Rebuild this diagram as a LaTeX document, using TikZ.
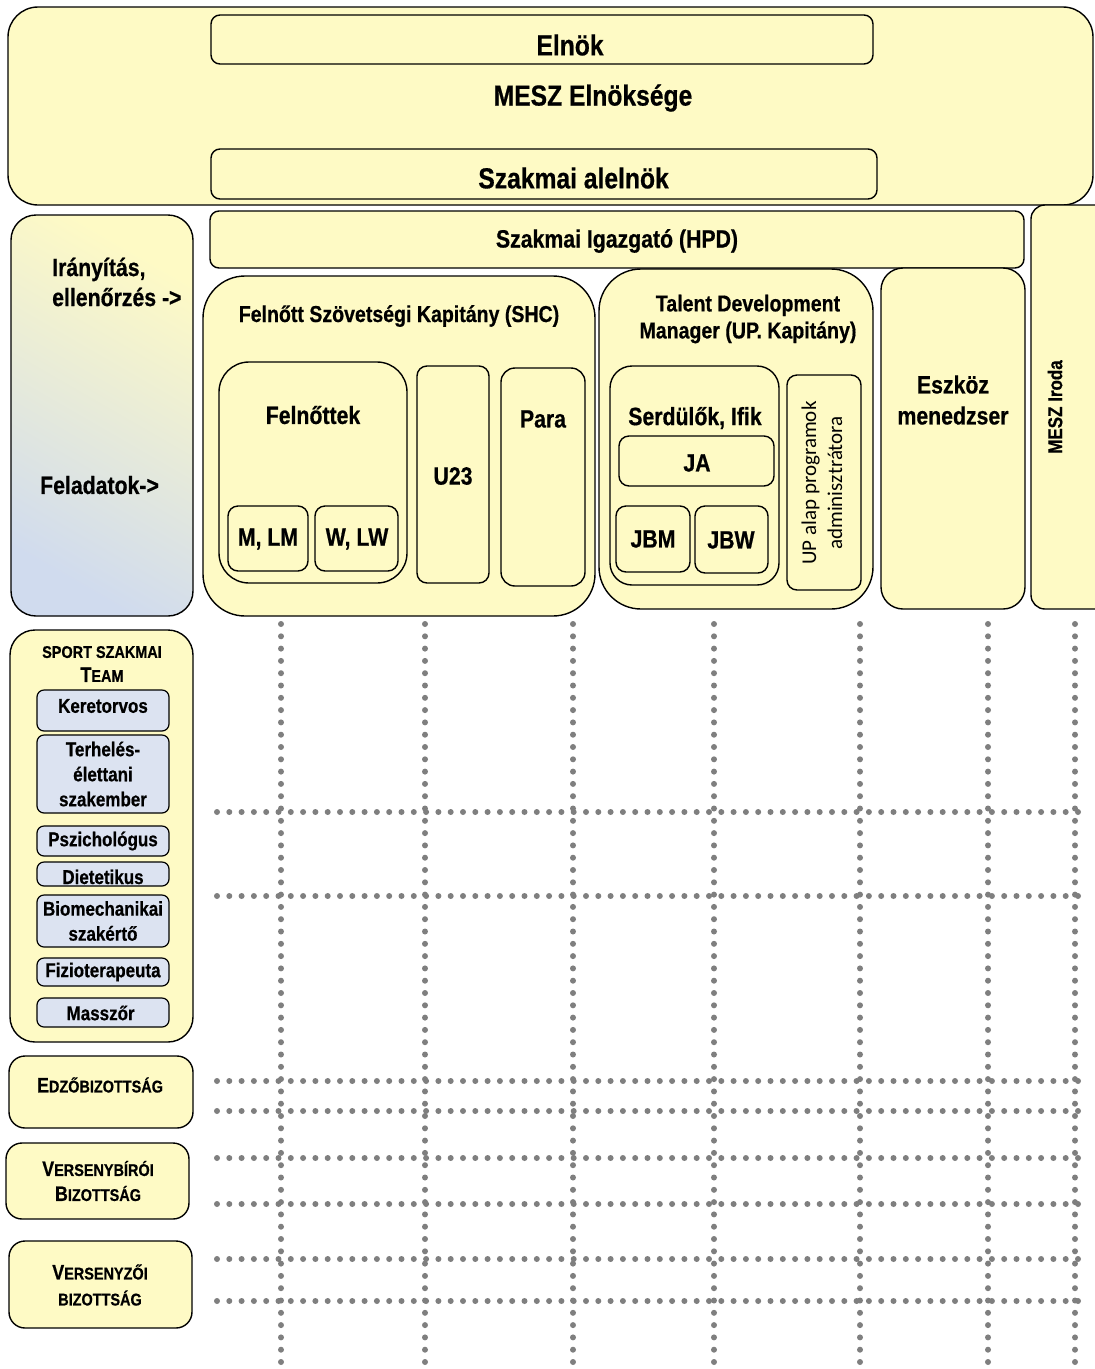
\documentclass[tikz,border=0pt]{standalone}
\usepackage{fontspec}
\setmainfont{Liberation Sans}[FakeStretch=0.85, BoldFont={Liberation Sans Bold}, BoldFeatures={FakeBold=0.6}]
\newfontfamily\upfont{Carlito}
\usetikzlibrary{arrows}
\newcommand\kisk[2]{{\fontsize{21}{25}\selectfont #1}{\fontsize{17}{25}\selectfont #2}}

\begin{document}
\begin{tikzpicture}[x=1pt,y=-1pt]
    \definecolor{sarga}{HTML}{FEFAC5}
    \definecolor{kek}{HTML}{DCE3F1}
    \definecolor{acel}{HTML}{D0DBEE}
    \definecolor{pont}{HTML}{7F7F7F}
    \tikzset{
      egyseg/.style={draw, line width=1.4pt, fill=sarga, inner sep=0pt},
      cimke/.style={draw, line width=1.2pt, fill=kek, rounded corners=7pt, inner sep=0pt},
      felirat/.style={font=\bfseries\fontsize{25}{31}\selectfont, align=center, inner sep=0pt},
      pontsor/.style={draw=pont, line width=6pt, line cap=round, dash pattern=on 0pt off 12.3pt}
    }
    \useasboundingbox (0,0) rectangle (1095,1369);
    \foreach \x in {281,425,573,714,860,988,1075}  %fuggoleges pontsorok
      \draw[pontsor] (\x,624) -- (\x,1366);
    \foreach \y in {812,896,1081,1111,1158,1204,1259,1301}  %vizszintes pontsorok
      \draw[pontsor] (217,\y) -- (1090,\y);
    \foreach \n/\xa/\ya/\xb/\yb/\r in
    {
      elnokseg/8/7/1093/205/30,  %\xa,\ya bal felso sarok
      elnok/211/15/873/64/9,     %\xb,\yb jobb also sarok
      alelnok/211/149/877/199/9,
      hpd/210/211/1024/268/9,
      iroda/1031/205/1115/609/14,
      shc/203/276/595/616/42,
      felnottek/219/362/407/583/30,
      mlm/228/506/308/571/10,
      wlw/315/506/398/571/10,
      u23/417/366/489/583/10,
      para/501/368/585/586/14,
      tdm/599/269/873/609/42,
      serd/610/366/779/585/22,
      ja/619/436/774/486/10,
      jbm/616/506/690/572/10,
      jbw/695/506/768/573/10,
      upalap/787/375/861/590/10,
      eszkoz/881/268/1025/609/22,
      sport/10/630/193/1042/25,
      edzo/9/1056/193/1128/16,
      biro/6/1143/189/1219/16,
      versenyzo/9/1241/192/1328/16
    }
      \node[egyseg, rounded corners=\r pt, minimum width=\xb-\xa, minimum height=\yb-\ya]
        (\n) at ({(\xa+\xb)/2},{(\ya+\yb)/2}) {};
    \node[draw, line width=1.4pt, rounded corners=25pt, minimum width=182, minimum height=401,
      top color=sarga, bottom color=acel, shading angle=-30] (iranyitas) at (102,415.5) {};
    \foreach \n/\ya/\yb in {keret/690/731, terheles/735/813, pszich/826/856, diet/862/886,
      biomech/895/947, fizio/958/986, massz/998/1027}  %sport szakmai team tagjai
      \node[cimke, minimum width=132, minimum height=\yb-\ya] (\n) at (103,{(\ya+\yb)/2}) {};
    % feliratok
    \foreach \n/\x/\y/\t in
    {
      elnok/570/45/Elnök,
      mesz/593/98/MESZ Elnöksége,
      alelnok/577/178/Szakmai alelnök
    }
      \node[felirat, font=\bfseries\fontsize{29}{34}\selectfont] (t\n) at (\x,\y) {\t};
    \foreach \n/\x/\y/\t in
    {
      felnottek/313/415/Felnőttek,
      mlm/268/539/{M, LM},
      wlw/357/539/{W, LW},
      u23/453/476/U23,
      para/543/419/Para,
      serd/695/418/{Serdülők, Ifik},
      ja/697/463/JA,
      jbm/653/539/JBM,
      jbw/731/540/JBW,
      eszkoz/953/400/Eszköz\\menedzser
    }
      \node[felirat] (t\n) at (\x,\y) {\t};
    \node[felirat] (thpd) at (617,241) {Szakmai Igazgató (HPD)};
    \node[felirat, font=\bfseries\fontsize{23}{27}\selectfont] (tshc) at (399,316) {Felnőtt Szövetségi Kapitány (SHC)};
    \node[felirat, font=\bfseries\fontsize{23}{27}\selectfont] (ttdm) at (748,319) {Talent Development\\Manager (UP. Kapitány)};
    \node[felirat, font=\bfseries\fontsize{20}{24}\selectfont, rotate=90] (tiroda) at (1055,407) {MESZ Iroda};
    \node[felirat, font=\upfont\fontsize{21}{26}\selectfont, rotate=90] (tupalap) at (822,483) {UP alap programok\\adminisztrátora};
    \node[felirat, align=left, anchor=west, font=\bfseries\fontsize{25}{30}\selectfont] (tiranyit) at (52,282) {Irányítás,\\ellenőrzés ->};
    \node[felirat, anchor=west] (tfeladat) at (40,485) {Feladatok->};
    \node[felirat, font=\bfseries\fontsize{17}{24}\selectfont] (tsport) at (102,664) {SPORT SZAKMAI\\\kisk{T}{EAM}};
    \foreach \n/\y/\t in
    {
      keret/706/Keretorvos,
      terheles/774/Terhelés-\\élettani\\szakember,
      pszich/841/Pszichológus,
      biomech/921/Biomechanikai\\szakértő,
      fizio/972/Fizioterapeuta,
      massz/1013/Masszőr
    }
      \node[felirat, font=\bfseries\fontsize{20}{25}\selectfont] (t\n) at (103,\y) {\t};
    \node[felirat, anchor=base, font=\bfseries\fontsize{20}{25}\selectfont] (tdiet) at (103,884) {Dietetikus};
    \node[felirat, font=\bfseries\fontsize{17}{25}\selectfont] (tedzo) at (100,1085) {\kisk{E}{DZŐBIZOTTSÁG}};
    \node[felirat, font=\bfseries\fontsize{17}{25}\selectfont] (tbiro) at (98,1181) {\kisk{V}{ERSENYBÍRÓI}\\\kisk{B}{IZOTTSÁG}};
    \node[felirat, font=\bfseries\fontsize{17}{26}\selectfont] (tversenyzo) at (100,1285) {\kisk{V}{ERSENYZŐI}\\BIZOTTSÁG};
\end{tikzpicture}
\end{document}
